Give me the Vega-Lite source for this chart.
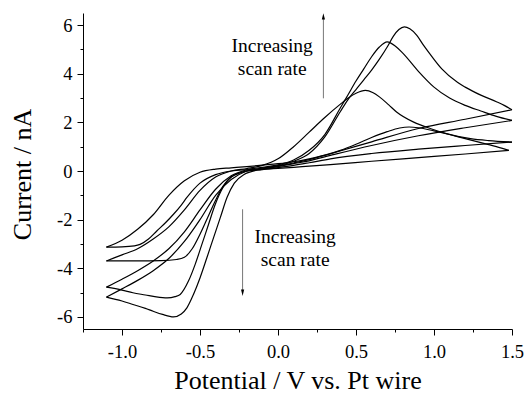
{
  "$schema": "https://vega.github.io/schema/vega-lite/v6.json",
  "width": 429,
  "height": 316,
  "autosize": {"type": "none"},
  "padding": {"left": 83, "top": 13, "right": 13, "bottom": 65},
  "background": "white",
  "config": {
    "view": {"stroke": null},
    "axis": {"grid": false, "domainColor": "black", "tickColor": "black", "labelColor": "black", "titleColor": "black", "labelFont": "Liberation Serif", "titleFont": "Liberation Serif", "labelFontSize": 18.5, "titleFontSize": 26, "titleFontWeight": "normal", "domainWidth": 1, "tickWidth": 1, "labelFlush": false, "labelOverlap": false}
  },
  "resolve": {"axis": {"x": "independent", "y": "independent"}},
  "layer": [
    {
      "data": {"values": [
        {"s":"4u","x":-1.1,"y":-5.19},{"s":"4u","x":-1.0,"y":-4.85},{"s":"4u","x":-0.9,"y":-4.5},{"s":"4u","x":-0.8,"y":-4.1},{"s":"4u","x":-0.7,"y":-3.6},{"s":"4u","x":-0.6,"y":-2.9},{"s":"4u","x":-0.5,"y":-2.0},{"s":"4u","x":-0.4,"y":-1.0},{"s":"4u","x":-0.3,"y":-0.35},{"s":"4u","x":-0.2,"y":0.0},{"s":"4u","x":-0.1,"y":0.12},{"s":"4u","x":0.0,"y":0.22},{"s":"4u","x":0.1,"y":0.4},{"s":"4u","x":0.2,"y":0.72},{"s":"4u","x":0.3,"y":1.4},{"s":"4u","x":0.4,"y":2.45},{"s":"4u","x":0.45,"y":2.95},{"s":"4u","x":0.5,"y":3.35},{"s":"4u","x":0.55,"y":3.75},{"s":"4u","x":0.6,"y":4.15},{"s":"4u","x":0.65,"y":4.6},{"s":"4u","x":0.7,"y":5.1},{"s":"4u","x":0.74,"y":5.55},{"s":"4u","x":0.775,"y":5.82},{"s":"4u","x":0.81,"y":5.93},{"s":"4u","x":0.845,"y":5.85},{"s":"4u","x":0.89,"y":5.58},{"s":"4u","x":0.93,"y":5.2},{"s":"4u","x":0.97,"y":4.85},{"s":"4u","x":1.05,"y":4.2},{"s":"4u","x":1.15,"y":3.65},{"s":"4u","x":1.2,"y":3.45},{"s":"4u","x":1.3,"y":3.12},{"s":"4u","x":1.4,"y":2.85},{"s":"4u","x":1.45,"y":2.7},{"s":"4u","x":1.5,"y":2.52},
        {"s":"4l","x":-1.1,"y":-5.19},{"s":"4l","x":-1.0,"y":-5.35},{"s":"4l","x":-0.93,"y":-5.49},{"s":"4l","x":-0.85,"y":-5.65},{"s":"4l","x":-0.8,"y":-5.77},{"s":"4l","x":-0.74,"y":-5.9},{"s":"4l","x":-0.67,"y":-6.0},{"s":"4l","x":-0.62,"y":-5.88},{"s":"4l","x":-0.584,"y":-5.63},{"s":"4l","x":-0.542,"y":-5.08},{"s":"4l","x":-0.5,"y":-4.4},{"s":"4l","x":-0.456,"y":-3.57},{"s":"4l","x":-0.413,"y":-2.74},{"s":"4l","x":-0.37,"y":-1.92},{"s":"4l","x":-0.327,"y":-1.09},{"s":"4l","x":-0.28,"y":-0.5},{"s":"4l","x":-0.22,"y":-0.15},{"s":"4l","x":-0.1,"y":0.08},{"s":"4l","x":0.0,"y":0.2},{"s":"4l","x":0.1,"y":0.33},{"s":"4l","x":0.2,"y":0.47},{"s":"4l","x":0.336,"y":0.71},{"s":"4l","x":0.6,"y":1.2},{"s":"4l","x":0.9,"y":1.75},{"s":"4l","x":1.2,"y":2.13},{"s":"4l","x":1.5,"y":2.52},
        {"s":"3u","x":-1.1,"y":-4.78},{"s":"3u","x":-1.0,"y":-4.45},{"s":"3u","x":-0.9,"y":-4.1},{"s":"3u","x":-0.8,"y":-3.7},{"s":"3u","x":-0.7,"y":-3.2},{"s":"3u","x":-0.6,"y":-2.5},{"s":"3u","x":-0.5,"y":-1.6},{"s":"3u","x":-0.4,"y":-0.75},{"s":"3u","x":-0.3,"y":-0.2},{"s":"3u","x":-0.2,"y":0.05},{"s":"3u","x":-0.1,"y":0.15},{"s":"3u","x":0.0,"y":0.25},{"s":"3u","x":0.1,"y":0.45},{"s":"3u","x":0.2,"y":0.85},{"s":"3u","x":0.3,"y":1.5},{"s":"3u","x":0.4,"y":2.6},{"s":"3u","x":0.45,"y":3.15},{"s":"3u","x":0.5,"y":3.7},{"s":"3u","x":0.55,"y":4.2},{"s":"3u","x":0.6,"y":4.7},{"s":"3u","x":0.65,"y":5.1},{"s":"3u","x":0.7,"y":5.31},{"s":"3u","x":0.755,"y":5.12},{"s":"3u","x":0.8,"y":4.85},{"s":"3u","x":0.9,"y":4.1},{"s":"3u","x":1.0,"y":3.45},{"s":"3u","x":1.1,"y":3.0},{"s":"3u","x":1.2,"y":2.7},{"s":"3u","x":1.3,"y":2.47},{"s":"3u","x":1.4,"y":2.25},{"s":"3u","x":1.5,"y":2.08},
        {"s":"3l","x":-1.1,"y":-4.78},{"s":"3l","x":-1.0,"y":-4.9},{"s":"3l","x":-0.93,"y":-5.01},{"s":"3l","x":-0.85,"y":-5.1},{"s":"3l","x":-0.78,"y":-5.18},{"s":"3l","x":-0.71,"y":-5.22},{"s":"3l","x":-0.66,"y":-5.17},{"s":"3l","x":-0.627,"y":-5.08},{"s":"3l","x":-0.574,"y":-4.53},{"s":"3l","x":-0.531,"y":-3.84},{"s":"3l","x":-0.488,"y":-3.02},{"s":"3l","x":-0.445,"y":-2.19},{"s":"3l","x":-0.402,"y":-1.37},{"s":"3l","x":-0.35,"y":-0.65},{"s":"3l","x":-0.3,"y":-0.25},{"s":"3l","x":-0.2,"y":0.0},{"s":"3l","x":-0.1,"y":0.08},{"s":"3l","x":0.0,"y":0.18},{"s":"3l","x":0.1,"y":0.3},{"s":"3l","x":0.2,"y":0.42},{"s":"3l","x":0.336,"y":0.64},{"s":"3l","x":0.6,"y":1.05},{"s":"3l","x":0.9,"y":1.45},{"s":"3l","x":1.2,"y":1.78},{"s":"3l","x":1.5,"y":2.08},
        {"s":"2u","x":-1.1,"y":-3.7},{"s":"2u","x":-1.0,"y":-3.45},{"s":"2u","x":-0.9,"y":-3.2},{"s":"2u","x":-0.8,"y":-2.8},{"s":"2u","x":-0.7,"y":-2.3},{"s":"2u","x":-0.6,"y":-1.6},{"s":"2u","x":-0.5,"y":-0.8},{"s":"2u","x":-0.4,"y":-0.25},{"s":"2u","x":-0.3,"y":0.0},{"s":"2u","x":-0.2,"y":0.1},{"s":"2u","x":-0.1,"y":0.23},{"s":"2u","x":0.0,"y":0.5},{"s":"2u","x":0.1,"y":1.0},{"s":"2u","x":0.2,"y":1.6},{"s":"2u","x":0.3,"y":2.2},{"s":"2u","x":0.4,"y":2.75},{"s":"2u","x":0.45,"y":3.0},{"s":"2u","x":0.5,"y":3.2},{"s":"2u","x":0.56,"y":3.32},{"s":"2u","x":0.61,"y":3.22},{"s":"2u","x":0.65,"y":3.05},{"s":"2u","x":0.71,"y":2.72},{"s":"2u","x":0.76,"y":2.43},{"s":"2u","x":0.87,"y":2.01},{"s":"2u","x":0.98,"y":1.74},{"s":"2u","x":1.085,"y":1.53},{"s":"2u","x":1.234,"y":1.33},{"s":"2u","x":1.35,"y":1.25},{"s":"2u","x":1.5,"y":1.19},
        {"s":"2l","x":-1.1,"y":-3.7},{"s":"2l","x":-0.9,"y":-3.7},{"s":"2l","x":-0.75,"y":-3.69},{"s":"2l","x":-0.65,"y":-3.64},{"s":"2l","x":-0.6,"y":-3.55},{"s":"2l","x":-0.55,"y":-3.2},{"s":"2l","x":-0.5,"y":-2.6},{"s":"2l","x":-0.45,"y":-1.9},{"s":"2l","x":-0.4,"y":-1.2},{"s":"2l","x":-0.35,"y":-0.6},{"s":"2l","x":-0.3,"y":-0.25},{"s":"2l","x":-0.2,"y":0.0},{"s":"2l","x":-0.1,"y":0.06},{"s":"2l","x":0.0,"y":0.14},{"s":"2l","x":0.1,"y":0.23},{"s":"2l","x":0.2,"y":0.34},{"s":"2l","x":0.336,"y":0.5},{"s":"2l","x":0.6,"y":0.72},{"s":"2l","x":0.9,"y":0.9},{"s":"2l","x":1.2,"y":1.05},{"s":"2l","x":1.5,"y":1.19},
        {"s":"1u","x":-1.1,"y":-3.13},{"s":"1u","x":-1.0,"y":-2.85},{"s":"1u","x":-0.9,"y":-2.4},{"s":"1u","x":-0.8,"y":-1.8},{"s":"1u","x":-0.7,"y":-1.0},{"s":"1u","x":-0.6,"y":-0.4},{"s":"1u","x":-0.5,"y":-0.05},{"s":"1u","x":-0.4,"y":0.08},{"s":"1u","x":-0.3,"y":0.13},{"s":"1u","x":-0.2,"y":0.18},{"s":"1u","x":-0.1,"y":0.24},{"s":"1u","x":0.0,"y":0.3},{"s":"1u","x":0.1,"y":0.38},{"s":"1u","x":0.2,"y":0.5},{"s":"1u","x":0.3,"y":0.65},{"s":"1u","x":0.4,"y":0.85},{"s":"1u","x":0.5,"y":1.1},{"s":"1u","x":0.6,"y":1.38},{"s":"1u","x":0.7,"y":1.62},{"s":"1u","x":0.78,"y":1.77},{"s":"1u","x":0.84,"y":1.81},{"s":"1u","x":0.9,"y":1.78},{"s":"1u","x":1.0,"y":1.65},{"s":"1u","x":1.1,"y":1.5},{"s":"1u","x":1.2,"y":1.33},{"s":"1u","x":1.3,"y":1.17},{"s":"1u","x":1.4,"y":1.0},{"s":"1u","x":1.48,"y":0.85},
        {"s":"1l","x":-1.1,"y":-3.13},{"s":"1l","x":-1.0,"y":-3.12},{"s":"1l","x":-0.92,"y":-3.08},{"s":"1l","x":-0.884,"y":-3.02},{"s":"1l","x":-0.83,"y":-2.8},{"s":"1l","x":-0.777,"y":-2.47},{"s":"1l","x":-0.72,"y":-2.12},{"s":"1l","x":-0.67,"y":-1.78},{"s":"1l","x":-0.62,"y":-1.4},{"s":"1l","x":-0.584,"y":-1.09},{"s":"1l","x":-0.5,"y":-0.5},{"s":"1l","x":-0.4,"y":-0.15},{"s":"1l","x":-0.3,"y":0.0},{"s":"1l","x":-0.2,"y":0.05},{"s":"1l","x":-0.1,"y":0.08},{"s":"1l","x":0.0,"y":0.11},{"s":"1l","x":0.1,"y":0.15},{"s":"1l","x":0.2,"y":0.2},{"s":"1l","x":0.336,"y":0.26},{"s":"1l","x":0.6,"y":0.4},{"s":"1l","x":0.9,"y":0.55},{"s":"1l","x":1.2,"y":0.7},{"s":"1l","x":1.48,"y":0.85}
      ]},
      "mark": {"type": "line", "color": "black", "strokeWidth": 1.2, "interpolate": "monotone"},
      "encoding": {
        "x": {"field": "x", "type": "quantitative", "scale": {"domain": [-1.25, 1.5], "nice": false, "zero": false},
          "axis": {"orient": "bottom", "values": [-1, -0.5, 0, 0.5, 1, 1.5], "labelExpr": "(datum.value < 0 ? '-' : '') + format(abs(datum.value), '.1f')", "labelFont": "Liberation Serif", "labelFontSize": 18.5, "tickSize": 6, "labelPadding": 7, "title": "Potential / V vs. Pt wire", "titleFont": "Liberation Serif", "titleX": 214.5, "titleY": 59, "titleBaseline": "alphabetic", "titleAlign": "center"}},
        "y": {"field": "y", "type": "quantitative", "scale": {"domain": [-6.5, 6.5], "nice": false, "zero": false},
          "axis": {"orient": "left", "values": [-6, -4, -2, 0, 2, 4, 6], "labelExpr": "(datum.value < 0 ? '-' : '') + format(abs(datum.value), 'd')", "labelFont": "Liberation Serif", "labelFontSize": 18.5, "tickSize": 6, "labelPadding": 5, "title": "Current / nA", "titleFont": "Liberation Serif", "titleAngle": 270, "titleX": -53, "titleY": 161, "titleBaseline": "alphabetic", "titleAlign": "center"}},
        "detail": {"field": "s", "type": "nominal"}
      }
    },
    {
      "data": {"values": [
        {"x": -0.037, "y": 4.9, "t": "Increasing"},
        {"x": -0.037, "y": 3.94, "t": "scan rate"},
        {"x": 0.11, "y": -2.95, "t": "Increasing"},
        {"x": 0.11, "y": -3.91, "t": "scan rate"}
      ]},
      "mark": {"type": "text", "font": "Liberation Serif", "fontSize": 19.5, "align": "center", "baseline": "alphabetic", "color": "black"},
      "encoding": {
        "x": {"field": "x", "type": "quantitative", "scale": {"domain": [-1.25, 1.5], "nice": false, "zero": false},
          "axis": {"orient": "bottom", "values": [-1.25, -0.75, -0.25, 0.25, 0.75, 1.25], "labels": false, "domain": false, "tickSize": 3, "title": null}},
        "y": {"field": "y", "type": "quantitative", "scale": {"domain": [-6.5, 6.5], "nice": false, "zero": false},
          "axis": {"orient": "left", "values": [-5, -3, -1, 1, 3, 5], "labels": false, "domain": false, "tickSize": 3, "title": null}},
        "text": {"field": "t", "type": "nominal"}
      }
    },
    {
      "data": {"values": [
        {"x": 0.291, "y": 2.99, "y2": 6.3},
        {"x": -0.227, "y": -1.575, "y2": -5.0}
      ]},
      "mark": {"type": "rule", "color": "#777777", "strokeWidth": 1},
      "encoding": {
        "x": {"field": "x", "type": "quantitative", "scale": {"domain": [-1.25, 1.5], "nice": false, "zero": false}, "axis": null},
        "y": {"field": "y", "type": "quantitative", "scale": {"domain": [-6.5, 6.5], "nice": false, "zero": false}, "axis": null},
        "y2": {"field": "y2"}
      }
    },
    {
      "data": {"values": [
        {"x": 0.291, "y": 6.36, "d": "up"},
        {"x": -0.227, "y": -5.01, "d": "down"}
      ]},
      "mark": {"type": "point", "filled": true, "color": "black", "size": 40, "opacity": 1, "strokeWidth": 0},
      "encoding": {
        "x": {"field": "x", "type": "quantitative", "scale": {"domain": [-1.25, 1.5], "nice": false, "zero": false}, "axis": null},
        "y": {"field": "y", "type": "quantitative", "scale": {"domain": [-6.5, 6.5], "nice": false, "zero": false}, "axis": null},
        "shape": {"field": "d", "type": "nominal", "scale": {"domain": ["up", "down"], "range": ["M-0.5,1L0,-1L0.5,1Z", "M-0.5,-1L0,1L0.5,-1Z"]}, "legend": null}
      }
    }
  ]
}
